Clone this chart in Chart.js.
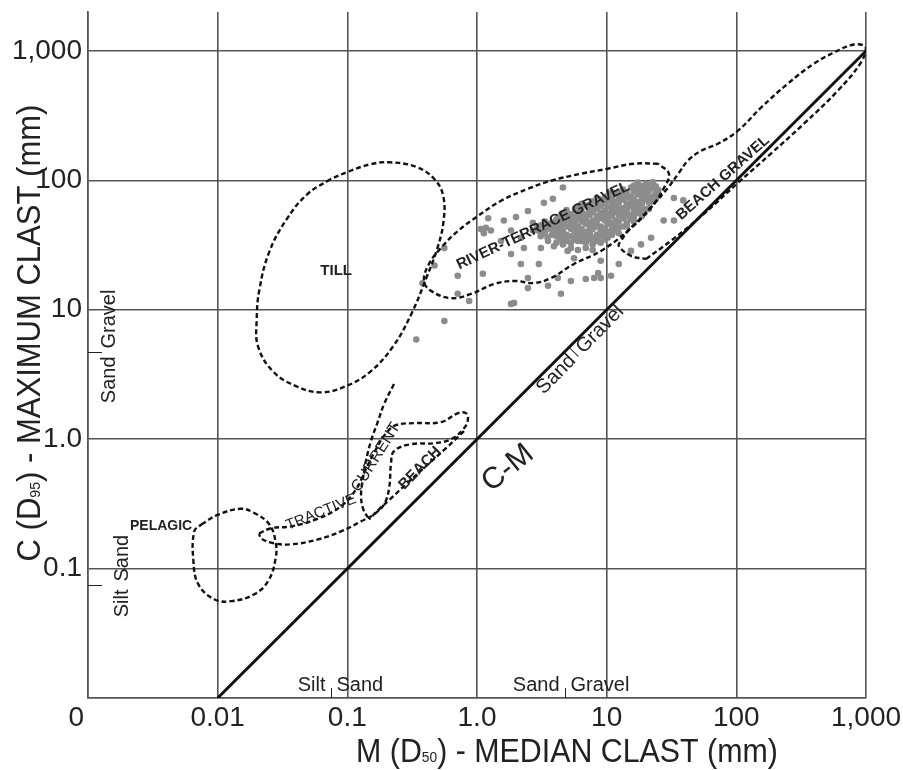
<!DOCTYPE html>
<html lang="en">
<head>
<meta charset="UTF-8" />
<title>C-M diagram</title>
<style>
  * { box-sizing: border-box; margin: 0; padding: 0; }
  html, body { width: 903px; height: 770px; background: #fff; overflow: hidden; }
  #wrap { width: 903px; height: 770px; }
</style>
<script src="https://cdn.jsdelivr.net/npm/chart.js@4/dist/chart.umd.min.js"></script>
</head>
<body>
<div id="wrap"><canvas id="cm" width="903" height="770"></canvas></div>
<script>
  // axis ticks (mm)
  const xTickValues = [0.001, 0.01, 0.1, 1, 10, 100, 1000];
  const xTickLabels = ['0   ', '0.01', '0.1', '1.0', '10', '100', '1,000'];
  const yTickValues = [0.01, 0.1, 1, 10, 100, 1000];
  const yTickLabels = ['', '0.1', '1.0', '10', '100', '1,000'];

  // C = M line
  const cmLine = [[0.01, 0.01], [1000, 1000]];

  // grain size class boundaries (mm)
  const sizeBoundaries = [0.075, 4.75];
  const boundaryNames = [['Silt', 'Sand'], ['Sand', 'Gravel']];

  // field outlines, [M, C] in mm
  const pelagic = [[0.0075, 0.22], [0.010, 0.26], [0.015, 0.29], [0.019, 0.27], [0.025, 0.22], [0.028, 0.16],
    [0.028, 0.12], [0.0245, 0.08], [0.019, 0.063], [0.0127, 0.056], [0.0094, 0.058], [0.0071, 0.0755],
    [0.0065, 0.114], [0.0066, 0.194], [0.0075, 0.22]];

  const till = [[0.074, 102], [0.049, 78], [0.034, 50], [0.025, 28], [0.021, 14.4], [0.020, 8.4], [0.0205, 5.2],
    [0.027, 3.3], [0.041, 2.55], [0.062, 2.3], [0.096, 2.55], [0.149, 3.3], [0.225, 5.2], [0.315, 9.5],
    [0.41, 18], [0.49, 29], [0.55, 47], [0.55, 75], [0.47, 102], [0.34, 127], [0.21, 138], [0.15, 133],
    [0.10, 116], [0.074, 102]];

  const tractiveCurrent = [[0.0209, 0.187], [0.0258, 0.205], [0.0368, 0.212], [0.0574, 0.240], [0.0894, 0.303],
    [0.1167, 0.410], [0.139, 0.586], [0.1665, 0.837], [0.199, 1.113], [0.237, 1.283], [0.327, 1.330],
    [0.528, 1.354], [0.714, 1.589], [0.823, 1.589], [0.852, 1.428], [0.794, 1.216], [0.630, 1.0],
    [0.466, 0.931], [0.310, 0.915], [0.229, 0.808], [0.217, 0.640], [0.210, 0.418], [0.192, 0.314],
    [0.161, 0.263], [0.128, 0.232], [0.0894, 0.194], [0.0594, 0.168], [0.0368, 0.154], [0.0272, 0.157],
    [0.0216, 0.171], [0.0209, 0.187]];

  const tractiveTail = [[0.229, 2.666], [0.192, 1.866], [0.1725, 1.378], [0.152, 0.965], [0.139, 0.676],
    [0.132, 0.499], [0.1276, 0.375], [0.132, 0.292], [0.147, 0.240]];

  const beachEdge = [[0.794, 1.153], [0.577, 0.852], [0.404, 0.618], [0.284, 0.449], [0.217, 0.349],
    [0.1756, 0.287], [0.147, 0.240]];

  const riverTerrace = [[24.9, 134.5], [16.2, 134.5], [10.2, 123], [6.34, 112.5], [3.72, 99.3], [2.47, 86.1],
    [1.53, 69.5], [1.02, 53.2], [0.714, 40.7], [0.528, 30.1], [0.426, 22.6], [0.390, 16.7], [0.442, 14.0],
    [0.630, 12.3], [0.899, 13.25], [1.35, 15.8], [1.93, 16.7], [2.75, 16.1], [3.72, 17.6], [5.60, 22.6],
    [9.04, 28.5], [14.6, 40.7], [21.96, 61.4], [27.7, 87.7], [30.2, 112.5], [24.9, 134.5]];

  const beachGravel = [[20.1, 24.7], [31.3, 34.1], [56.2, 55.1], [103, 95.8], [185, 161], [332, 274], [607, 494],
    [913, 813], [998, 1062], [807, 1121], [566, 972], [397, 799], [250, 560], [155, 365], [103, 242],
    [72.1, 192], [53.3, 169], [42.3, 142], [36.1, 114.5], [29.7, 87.7], [23.2, 65.9], [18.4, 51.3],
    [14.6, 40.7], [12.9, 34.1], [12.4, 31.2], [15.4, 26.1], [20.1, 24.7]];

  // river-terrace gravel samples, [M, C] in mm
  const samples = [
    [1.07, 42], [1.17, 43], [1.22, 51], [1.28, 41], [1.13, 39], [1.53, 34], [2.0, 52], [2.47, 58], [2.7, 47],
    [2.95, 41], [3.28, 67], [3.85, 72], [4.6, 88], [3.53, 34], [2.3, 30], [3.11, 30], [3.92, 31], [1.83, 41],
    [2.18, 36], [1.61, 49], [5.0, 28.5], [5.6, 25], [6.7, 34],
    [1.11, 19], [1.83, 27], [2.18, 22.6], [3.0, 22.6], [2.47, 17.6], [2.47, 14.7], [3.53, 15.3], [4.2, 17.6],
    [4.44, 13.3], [5.3, 16.7], [6.9, 17.3], [8.0, 17.6], [9.0, 17.6], [10.8, 18.3], [8.6, 19.2], [0.87, 11.7],
    [1.83, 11.1], [1.93, 11.3], [0.56, 8.2], [0.34, 5.9], [0.71, 13.3], [0.71, 18.3], [9.0, 23.9], [12.4, 22.6],
    [15.4, 28.5], [18.4, 32], [22, 36], [27.5, 49], [33, 49], [33, 73], [39, 70], [0.56, 30], [0.47, 22], [0.38, 16],
    [17.4, 96], [20, 94], [22.7, 97],
    [13.4, 85], [15.4, 88], [17.4, 86], [20, 85], [22.7, 88], [25, 84],
    [10.2, 76], [11.8, 79], [13.4, 77], [15.4, 75], [17.4, 78], [20, 77], [22.7, 75], [25, 78],
    [7.8, 69], [9, 71], [10.2, 70], [11.8, 68], [13.4, 71], [15.4, 70], [17.4, 68], [20, 71], [22.7, 69],
    [6, 62], [6.9, 64], [7.8, 61], [9, 63], [10.2, 62], [11.8, 64], [13.4, 61], [15.4, 63], [17.4, 62], [20, 60],
    [4.6, 56], [5.3, 55], [6, 57], [6.9, 55], [7.8, 57], [9, 56], [10.2, 55], [11.8, 57], [13.4, 56], [15.4, 54], [17.4, 56],
    [4.1, 50], [4.6, 51], [5.3, 49], [6, 51], [6.9, 50], [7.8, 49], [9, 51], [10.2, 50], [11.8, 49], [13.4, 51], [15.4, 50],
    [3.1, 45], [3.5, 46], [4.1, 44], [4.6, 46], [5.3, 45], [6, 44], [6.9, 46], [7.8, 45], [9, 44], [10.2, 46], [11.8, 45], [13.4, 44],
    [2.7, 41], [3.1, 40], [3.5, 42], [4.1, 41], [4.6, 40], [5.3, 42], [6, 41], [6.9, 40], [7.8, 42], [9, 41], [10.2, 40], [11.8, 41],
    [3.1, 37], [3.5, 36], [4.1, 37], [4.6, 36], [5.3, 37], [6, 36], [6.9, 37], [7.8, 36], [9, 37], [10.2, 36],
    [4.1, 33], [4.6, 32], [5.3, 33], [6, 34], [6.9, 33], [7.8, 32], [9, 33],
    [5.3, 30], [6, 29], [6.9, 30], [7.8, 29],
    [16.2, 91], [18.7, 90], [21.2, 92], [23.9, 90],
    [11, 81], [12.4, 82], [14.3, 80], [16.2, 82], [18.7, 81], [21.2, 83], [23.9, 81],
    [8.4, 73], [9.7, 74], [11, 72], [12.4, 73], [14.3, 74], [16.2, 72], [18.7, 73], [21.2, 74], [23.9, 72],
    [6.4, 66], [7.4, 65], [8.4, 67], [9.7, 66], [11, 65], [12.4, 67], [14.3, 66], [16.2, 65], [18.7, 66], [21.2, 67],
    [4.9, 59], [5.7, 60], [6.4, 58], [7.4, 59], [8.4, 60], [9.7, 58], [11, 59], [12.4, 60], [14.3, 59], [16.2, 58], [18.7, 59], [21.2, 60],
    [4.4, 53], [4.9, 54], [5.7, 52], [6.4, 53], [7.4, 54], [8.4, 53], [9.7, 52], [11, 53], [12.4, 54], [14.3, 53], [16.2, 52], [18.7, 53],
    [3.35, 48], [3.8, 47], [4.4, 48], [4.9, 49], [5.7, 47], [6.4, 48], [7.4, 47], [8.4, 48], [9.7, 49], [11, 47], [12.4, 48], [14.3, 47], [16.2, 48],
    [2.9, 43], [3.35, 44], [3.8, 42], [4.4, 43], [4.9, 44], [5.7, 43], [6.4, 42], [7.4, 43], [8.4, 44], [9.7, 43], [11, 42], [12.4, 43], [14.3, 44],
    [3.35, 39], [3.8, 38], [4.4, 39], [4.9, 38], [5.7, 39], [6.4, 38], [7.4, 39], [8.4, 38], [9.7, 39], [11, 38], [12.4, 39],
    [4.4, 35], [4.9, 34], [5.7, 35], [6.4, 34], [7.4, 35], [8.4, 34], [9.7, 35]
  ];

  // field names, placed at [M, C]
  const regionLabels = [
    { text: 'TILL', m: 0.082, c: 20, angle: 0, size: 15, bold: true },
    { text: 'PELAGIC', m: 0.00366, c: 0.212, angle: 0, size: 14, bold: true },
    { text: 'RIVER-TERRACE GRAVEL', m: 3.23, c: 44.5, angle: -25, size: 15, bold: true },
    { text: 'BEACH GRAVEL', m: 78.8, c: 104.7, angle: -41.7, size: 15, bold: true },
    { text: 'BEACH', m: 0.363, c: 0.596, angle: -45.7, size: 15, bold: true },
    { text: 'TRACTIVE', m: 0.0627, c: 0.272, angle: -22, size: 15, bold: false },
    { text: 'CURRENT', m: 0.1665, c: 0.726, angle: -58, size: 16, bold: false },
    { text: 'C-M', m: 1.73, c: 0.596, angle: -39, size: 30, bold: false }
  ];
  const diagonalNote = { m: 5.69, c: 4.63, angle: -45.7 };

  const FONT = '"Liberation Sans", Arial, sans-serif';
  const INK = '#222';

  const pts = arr => arr.map(([x, y]) => ({ x, y }));
  const outline = arr => ({
    data: pts(arr), showLine: true, pointRadius: 0, borderColor: '#111',
    borderWidth: 2.4, borderDash: [5, 3], tension: 0.4, fill: false
  });

  // text on top of everything
  const notes = {
    id: 'notes',
    afterDatasetsDraw(chart) {
      const { ctx, chartArea: a } = chart;
      const xs = chart.scales.x, ys = chart.scales.y;
      ctx.save();
      ctx.fillStyle = INK;
      ctx.strokeStyle = INK;

      regionLabels.forEach(l => {
        ctx.save();
        ctx.translate(xs.getPixelForValue(l.m), ys.getPixelForValue(l.c));
        ctx.rotate(l.angle * Math.PI / 180);
        ctx.font = (l.bold ? 'bold ' : '') + l.size + 'px ' + FONT;
        ctx.textAlign = 'center';
        ctx.textBaseline = 'middle';
        ctx.fillText(l.text, 0, 0);
        ctx.restore();
      });

      ctx.font = '20px ' + FONT;
      ctx.lineWidth = 1;

      // along the M axis
      sizeBoundaries.forEach((b, i) => {
        const bx = Math.round(xs.getPixelForValue(b)) + 0.5;
        ctx.beginPath(); ctx.moveTo(bx, a.bottom); ctx.lineTo(bx, a.bottom - 10); ctx.stroke();
        ctx.textBaseline = 'alphabetic';
        ctx.textAlign = 'right'; ctx.fillText(boundaryNames[i][0], bx - 6, a.bottom - 7);
        ctx.textAlign = 'left'; ctx.fillText(boundaryNames[i][1], bx + 5, a.bottom - 7);
      });

      // along the C axis
      const leftOff = [40, 27];
      sizeBoundaries.forEach((b, i) => {
        const by = Math.round(ys.getPixelForValue(b)) + 0.5;
        ctx.beginPath(); ctx.moveTo(a.left, by); ctx.lineTo(a.left + 14, by); ctx.stroke();
        ctx.save();
        ctx.translate(a.left + leftOff[i], by);
        ctx.rotate(-Math.PI / 2);
        ctx.textBaseline = 'alphabetic';
        ctx.textAlign = 'right'; ctx.fillText(boundaryNames[i][0], -4, 0);
        ctx.textAlign = 'left'; ctx.fillText(boundaryNames[i][1], 4, 0);
        ctx.restore();
      });

      // along the C-M line
      ctx.save();
      ctx.translate(xs.getPixelForValue(diagonalNote.m), ys.getPixelForValue(diagonalNote.c));
      ctx.rotate(diagonalNote.angle * Math.PI / 180);
      ctx.textBaseline = 'alphabetic';
      ctx.textAlign = 'right'; ctx.fillText(boundaryNames[1][0], -5, 7);
      ctx.textAlign = 'left'; ctx.fillText(boundaryNames[1][1], 5, 7);
      ctx.beginPath(); ctx.moveTo(0, -9); ctx.lineTo(0, 5); ctx.stroke();
      ctx.restore();

      ctx.restore();
    },
    afterDraw(chart) {
      const { ctx } = chart;
      const drawTitle = (parts, cx, cy, rot, squeeze) => {
        ctx.save();
        ctx.translate(cx, cy);
        ctx.rotate(rot);
        ctx.scale(squeeze, 1);
        ctx.fillStyle = INK;
        ctx.textAlign = 'left';
        ctx.textBaseline = 'alphabetic';
        const fontOf = p => (p[1] ? '15px ' : '33px ') + FONT;
        let w = 0;
        parts.forEach(p => { ctx.font = fontOf(p); w += ctx.measureText(p[0]).width; });
        let x = -w / 2;
        parts.forEach(p => { ctx.font = fontOf(p); ctx.fillText(p[0], x, 0); x += ctx.measureText(p[0]).width; });
        ctx.restore();
      };
      drawTitle([['M (D'], ['50', true], [') - MEDIAN CLAST (mm)']], 567, 762, 0, 0.92);
      drawTitle([['C (D'], ['95', true], [') - MAXIMUM CLAST (mm)']], 40, 333, -Math.PI / 2, 0.94);
    }
  };

  new Chart(document.getElementById('cm'), {
    type: 'scatter',
    data: {
      datasets: [
        { data: pts(cmLine), showLine: true, pointRadius: 0, borderColor: '#111', borderWidth: 3 },
        outline(till),
        outline(pelagic),
        outline(tractiveCurrent),
        outline(tractiveTail),
        outline(beachEdge),
        outline(riverTerrace),
        outline(beachGravel),
        { data: pts(samples), pointRadius: 3.3, pointBackgroundColor: '#8c8c8c', pointBorderWidth: 0, showLine: false }
      ]
    },
    options: {
      responsive: false,
      animation: false,
      events: [],
      layout: { padding: { top: 12, right: 37, left: 0, bottom: 0 } },
      plugins: { legend: { display: false }, tooltip: { enabled: false } },
      scales: {
        x: {
          type: 'logarithmic',
          min: 0.001,
          max: 1000,
          afterBuildTicks: s => { s.ticks = xTickValues.map(v => ({ value: v })); },
          afterFit: s => { s.height = 72; s.paddingLeft = 0; s.paddingRight = 0; },
          ticks: {
            autoSkip: false, maxRotation: 0, padding: 3, color: INK,
            font: { family: FONT, size: 28 },
            callback: (v, i) => xTickLabels[i]
          },
          grid: { color: '#555', lineWidth: 1.6, drawTicks: false },
          border: { color: '#555', width: 1.6 }
        },
        y: {
          type: 'logarithmic',
          min: 0.01,
          max: 2000,
          afterBuildTicks: s => { s.ticks = yTickValues.map(v => ({ value: v })); },
          afterFit: s => { s.width = 88; s.paddingTop = 0; s.paddingBottom = 0; },
          ticks: {
            autoSkip: false, padding: 6, color: INK,
            font: { family: FONT, size: 28 },
            callback: (v, i) => yTickLabels[i]
          },
          grid: { color: '#555', lineWidth: 1.6, drawTicks: false },
          border: { color: '#555', width: 1.6 }
        }
      }
    },
    plugins: [notes]
  });
</script>
</body>
</html>
